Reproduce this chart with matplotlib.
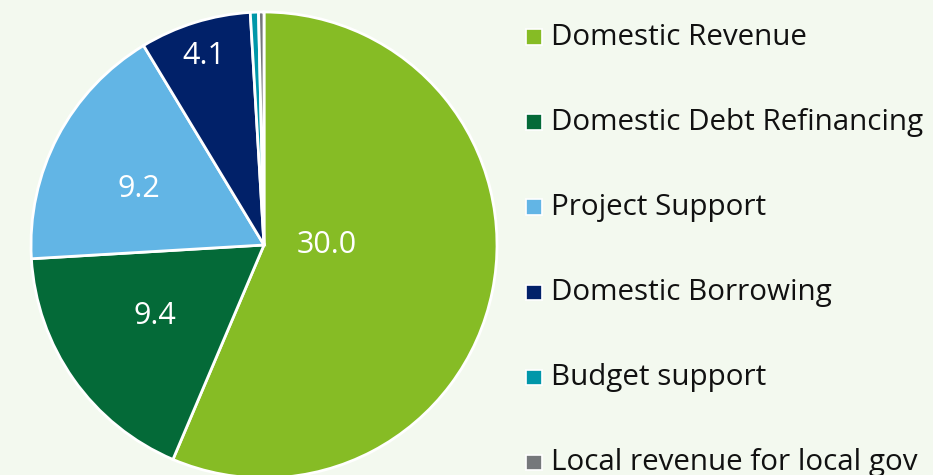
import matplotlib
matplotlib.use("Agg")
import matplotlib.pyplot as plt
import numpy as np
from matplotlib.patches import Rectangle

categories = ["Domestic Revenue", "Domestic Debt Refinancing", "Project Support",
              "Domestic Borrowing", "Budget support", "Local revenue for local gov"]
values = [30.0, 9.4, 9.2, 4.1, 0.3, 0.2]
labels = ["30.0", "9.4", "9.2", "4.1", "", ""]
colors = ["#86BC25", "#046A38", "#62B5E5", "#012169", "#0097A9", "#75787B"]

bg = "#F3F9EF"
plt.rcParams['font.family'] = ['Open Sans', 'DejaVu Sans']

W, H = 933, 475
fig = plt.figure(figsize=(W / 100, H / 100), dpi=100, facecolor=bg)

cx, cy, r = 264, 245, 233
ax = fig.add_axes([(cx - r) / W, (H - cy - r) / H, 2 * r / W, 2 * r / H])
ax.set_facecolor(bg)
wedges, _ = ax.pie(values, colors=colors, startangle=90, counterclock=False,
                   radius=1.0, wedgeprops=dict(edgecolor="white", linewidth=2))
ax.set_xlim(-1, 1)
ax.set_ylim(-1, 1)
ax.set_aspect('equal')
for s in ax.spines.values():
    s.set_visible(True)
    s.set_color("white")
    s.set_linewidth(1.5)
ax.set_xticks([])
ax.set_yticks([])

# label placement (radius, angle offset) per wedge
lab_r = [0.27, 0.56, 0.59, 0.85, 0, 0]
lab_da = [11.5, -2, 3.5, 0.5, 0, 0]
for w, lab, rr, da in zip(wedges, labels, lab_r, lab_da):
    if not lab:
        continue
    ang = np.deg2rad((w.theta1 + w.theta2) / 2 + da)
    ax.text(rr * np.cos(ang), rr * np.sin(ang), lab, color="white", fontsize=22,
            ha="center", va="center")

# legend
for i, (cat, col) in enumerate(zip(categories, colors)):
    base = 45 + 85 * i
    fig.patches.append(Rectangle((526 / W, (H - base) / H), 16 / W, 15.5 / H,
                                 transform=fig.transFigure, facecolor=col,
                                 edgecolor="white", linewidth=1.2))
    fig.text(551 / W, (H - base) / H, cat, fontsize=21.3, color="#111111",
             ha="left", va="baseline")

fig.savefig("out.png", dpi=100, facecolor=bg)
